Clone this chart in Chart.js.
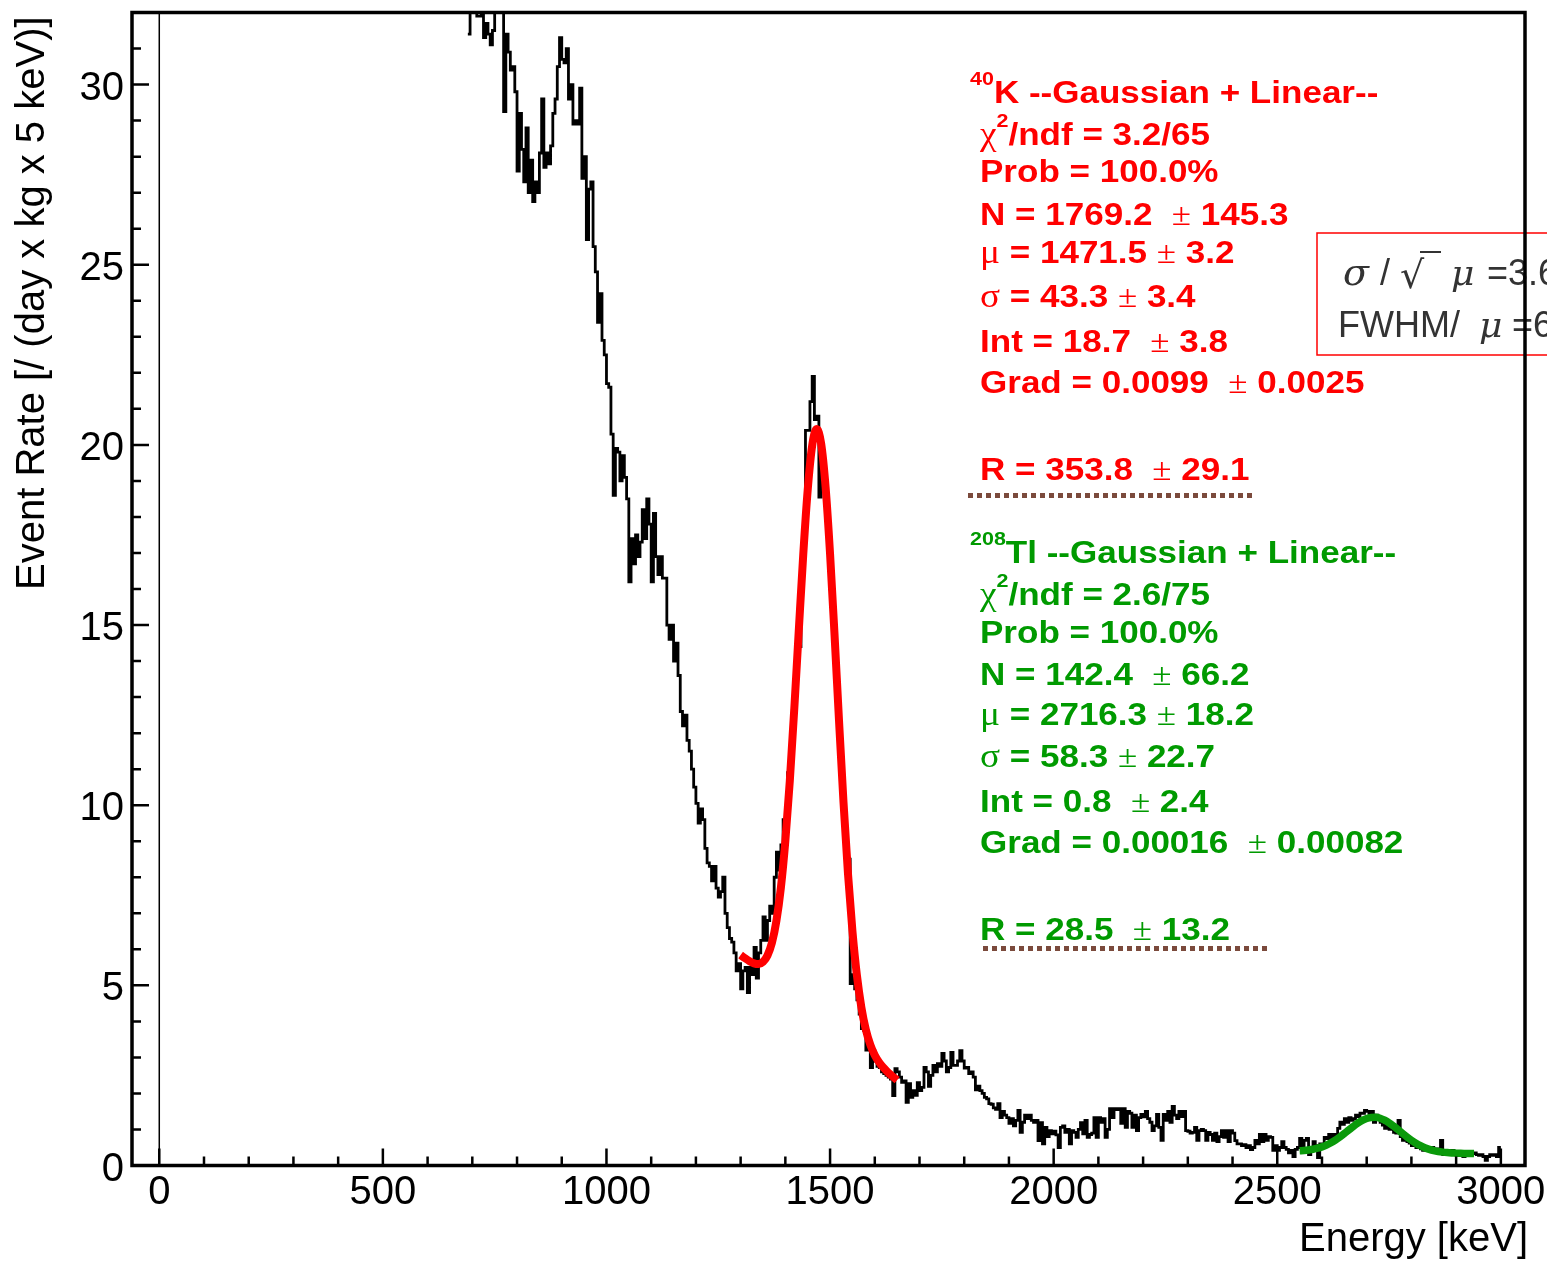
<!DOCTYPE html>
<html>
<head>
<meta charset="utf-8">
<title>Energy spectrum</title>
<script src="https://cdn.jsdelivr.net/npm/chart.js@4.4.1/dist/chart.umd.min.js"></script>
<style>
  html, body { margin: 0; padding: 0; background: #fff; }
  canvas { display: block; }
</style>
</head>
<body>
<canvas id="spectrum" width="1547" height="1261"></canvas>
<script>
////////////////////////////////
// Data
////////////////////////////////

// histogram, 5 keV bins, first bin starts at 690 keV (values above 32 run off the frame)
const binStart = 690;
const binWidth = 5;
const eventRate = [
  31.4, 33, 33, 33, 31.9, 31.9, 33, 31.3, 31.7, 31.4,          // 690
  31.1, 31.5, 33, 33, 33, 33, 29.25, 31.4, 30.9, 30.4,         // 740
  30.5, 29.8, 27.6, 29.2, 28.2, 27.3, 28.8, 27.0, 27.9, 26.75, // 790
  27.3, 27.0, 28.1, 29.6, 27.7, 28.1, 27.8, 28.3, 29.2, 29.6,  // 840
  30.5, 31.3, 30.7, 30.6, 31.0, 29.6, 30.0, 28.9, 29.0, 28.9,  // 890
  29.9, 27.4, 28.0, 25.7, 27.1, 27.3, 25.5, 24.8, 23.4, 24.2,  // 940
  22.9, 22.5, 21.7, 21.6, 20.3, 18.6, 19.9, 19.8, 19.0, 19.7,  // 990
  19.1, 18.5, 16.2, 17.4, 16.7, 17.5, 16.9, 17.3, 18.2, 17.4,  // 1040
  18.5, 17.8, 16.2, 18.1, 16.9, 16.4, 16.9, 16.3, 16.3, 15.0,  // 1090
  14.6, 15.0, 14.0, 14.5, 13.6, 12.6, 12.2, 12.5, 11.8, 11.5,  // 1140
  11.0, 10.5, 10.05, 9.5, 9.9, 9.6, 8.8, 8.4, 8.3, 7.9,        // 1190
  8.3, 7.7, 7.45, 7.6, 8.0, 7.0, 6.6, 6.3, 6.2, 5.9,           // 1240
  5.4, 5.6, 4.9, 5.4, 5.5, 4.8, 5.5, 5.3, 6.05, 5.2,           // 1290
  5.9, 6.25, 6.9, 6.25, 6.8, 7.2, 7.0, 8.0, 8.7, 8.2,          // 1340
  8.9, 9.6, 9.4, 10.9, 11.3, 12.4, 13.1, 14.4, 14.4, 16.3,     // 1390
  17.5, 20.4, 20.4, 21.2, 21.9, 20.7, 20.8, 18.55, 19.3, 19.0, // 1440
  18.0, 17.3, 16.0, 15.2, 14.0, 12.8, 11.9, 10.8, 9.6, 8.9,    // 1490
  8.5, 5.05, 5.3, 4.9, 4.6, 4.2, 3.8, 3.75, 3.2, 3.3,          // 1540
  2.72, 3.19, 2.9, 2.75, 2.72, 2.6, 2.55, 2.5, 2.45, 2.4,      // 1590
  1.94, 2.69, 2.6, 2.45, 2.31, 2.35, 1.75, 2.27, 1.89, 2.08,   // 1640
  1.95, 2.3, 2.08, 2.17, 2.72, 2.6, 2.2, 2.5, 2.78, 2.6,       // 1690
  2.83, 2.75, 3.11, 2.9, 2.6, 2.72, 3.14, 2.78, 2.78, 2.9,     // 1740
  3.19, 2.9, 2.7, 2.72, 2.55, 2.6, 2.45, 2.1, 2.2, 2.08,       // 1790
  2.0, 1.89, 1.85, 1.72, 1.7, 1.6, 1.56, 1.72, 1.33, 1.5,      // 1840
  1.4, 1.33, 1.17, 1.3, 1.1, 1.25, 1.53, 0.92, 1.2, 1.4,       // 1890
  1.3, 1.4, 1.25, 1.2, 1.25, 0.69, 1.19, 0.6, 1.06, 0.8,       // 1940
  0.97, 0.88, 0.95, 0.85, 0.5, 1.06, 1.1, 0.92, 1.0, 0.6,      // 1990
  0.97, 0.92, 0.78, 1.0, 1.19, 0.88, 1.25, 0.78, 0.86, 0.9,    // 2040
  1.33, 0.78, 1.33, 1.2, 1.3, 0.78, 1.0, 1.58, 1.33, 1.58,     // 2090
  1.55, 1.58, 1.17, 1.58, 1.06, 1.5, 1.45, 1.06, 1.4, 0.97,    // 2140
  1.33, 1.42, 1.35, 1.5, 1.3, 1.2, 0.97, 1.1, 1.42, 1.06,      // 2190
  0.7, 1.42, 1.25, 1.5, 1.2, 1.64, 1.4, 1.3, 1.5, 1.36,        // 2240
  1.5, 0.97, 0.95, 0.9, 0.92, 1.06, 0.7, 0.97, 1.0, 0.97,      // 2290
  0.7, 0.92, 0.86, 0.7, 0.9, 0.66, 0.8, 0.97, 0.78, 0.97,      // 2340
  0.66, 0.97, 0.9, 0.69, 0.6, 0.6, 0.55, 0.58, 0.5, 0.55,      // 2390
  0.44, 0.5, 0.7, 0.6, 0.86, 0.66, 0.86, 0.7, 0.8, 0.78,       // 2440
  0.42, 0.55, 0.42, 0.5, 0.66, 0.5, 0.45, 0.35, 0.42, 0.25,    // 2490
  0.45, 0.5, 0.75, 0.42, 0.7, 0.75, 0.3, 0.5, 0.66, 0.55,      // 2540
  0.22, 0.6, 0.55, 0.78, 0.75, 0.86, 0.7, 0.86, 0.8, 1.03,     // 2590
  1.2, 1.14, 1.3, 1.2, 1.33, 1.25, 1.3, 1.4, 1.36, 1.45,       // 2640
  1.45, 1.53, 1.5, 1.45, 1.5, 1.2, 1.4, 1.3, 1.2, 1.12,        // 2690
  1.03, 1.1, 1.0, 1.08, 0.92, 0.9, 1.25, 0.8, 0.7, 0.75,       // 2740
  0.66, 0.62, 0.55, 0.58, 0.5, 0.52, 0.46, 0.42, 0.45, 0.5,    // 2790
  0.48, 0.5, 0.45, 0.46, 0.44, 0.7, 0.3, 0.4, 0.42, 0.4,       // 2840
  0.42, 0.35, 0.28, 0.33, 0.3, 0.25, 0.28, 0.35, 0.3, 0.33,    // 2890
  0.35, 0.3, 0.28, 0.3, 0.25, 0.14, 0.25, 0.3, 0.28, 0.3,      // 2940
  0.25, 0.5                                                    // 2990
];

// fitted curves, read every 10 keV along the drawn line
const fitStep = 10;
const k40FitStart = 1300;
const k40FitRate = [
  5.84, 5.75, 5.67, 5.61, 5.59, 5.65, 5.83, 6.18, 6.79, 7.71,
  9.01, 10.68, 12.68, 14.84, 16.95, 18.75, 19.98, 20.44, 20.04, 18.83,
  16.97, 14.73, 12.35, 10.09, 8.11, 6.51, 5.28, 4.39, 3.77, 3.35,
  3.06, 2.86, 2.71, 2.58, 2.47, 2.37
];
const tl208FitStart = 2550;
const tl208FitRate = [
  0.409, 0.417, 0.431, 0.450, 0.479, 0.517, 0.567, 0.630, 0.705, 0.792,
  0.887, 0.986, 1.084, 1.174, 1.251, 1.306, 1.335, 1.338, 1.312, 1.259,
  1.185, 1.094, 0.995, 0.892, 0.792, 0.700, 0.618, 0.549, 0.493, 0.448,
  0.414, 0.389, 0.371, 0.358, 0.349, 0.343, 0.338, 0.335, 0.332, 0.330
];

// axes
const xRange = [-61, 3054];
const yRange = [0, 32];
const xTickLabels = [0, 500, 1000, 1500, 2000, 2500, 3000];
const yTickLabels = [0, 5, 10, 15, 20, 25, 30];
const xMinorStep = 100;
const yMinorStep = 1;

// fit result boxes
const k40Lines = [
  [['40', 'sup'], ['K --Gaussian + Linear--', 'b']],
  [['\u03c7', 'g'], ['2', 'sup'], ['/ndf = 3.2/65', 'b']],
  [['Prob = 100.0%', 'b']],
  [['N = 1769.2  ', 'b'], ['\u00b1', 'pm'], [' 145.3', 'b']],
  [['\u03bc', 'g'], [' = 1471.5 ', 'b'], ['\u00b1', 'pm'], [' 3.2', 'b']],
  [['\u03c3', 'g'], [' = 43.3 ', 'b'], ['\u00b1', 'pm'], [' 3.4', 'b']],
  [['Int = 18.7  ', 'b'], ['\u00b1', 'pm'], [' 3.8', 'b']],
  [['Grad = 0.0099  ', 'b'], ['\u00b1', 'pm'], [' 0.0025', 'b']],
  [['R = 353.8  ', 'b'], ['\u00b1', 'pm'], [' 29.1', 'b']]
];
const k40Baselines = [103, 145, 182, 225, 263, 307, 352, 393, 480];

const tl208Lines = [
  [['208', 'sup'], ['Tl --Gaussian + Linear--', 'b']],
  [['\u03c7', 'g'], ['2', 'sup'], ['/ndf = 2.6/75', 'b']],
  [['Prob = 100.0%', 'b']],
  [['N = 142.4  ', 'b'], ['\u00b1', 'pm'], [' 66.2', 'b']],
  [['\u03bc', 'g'], [' = 2716.3 ', 'b'], ['\u00b1', 'pm'], [' 18.2', 'b']],
  [['\u03c3', 'g'], [' = 58.3 ', 'b'], ['\u00b1', 'pm'], [' 22.7', 'b']],
  [['Int = 0.8  ', 'b'], ['\u00b1', 'pm'], [' 2.4', 'b']],
  [['Grad = 0.00016  ', 'b'], ['\u00b1', 'pm'], [' 0.00082', 'b']],
  [['R = 28.5  ', 'b'], ['\u00b1', 'pm'], [' 13.2', 'b']]
];
const tl208Baselines = [563, 605, 643, 685, 725, 767, 812, 853, 940];

////////////////////////////////
// Drawing helpers
////////////////////////////////

const SANS = '"Liberation Sans", Arial, Helvetica, sans-serif';
const SERIF = '"Liberation Serif", "Times New Roman", serif';
const TEXT_STRETCH = 1.13;
const richFonts = {
  b: 'bold 31px ' + SANS,
  sup: 'bold 19px ' + SANS,
  g: '33px ' + SERIF,
  pm: '31px ' + SERIF
};

function drawRichLine(ctx, x, y, parts) {
  ctx.save();
  ctx.translate(x, y);
  ctx.scale(TEXT_STRETCH, 1);
  let cx = 0;
  parts.forEach(([txt, kind]) => {
    ctx.font = richFonts[kind];
    ctx.fillText(txt, cx, kind === 'sup' ? -18 : 0);
    cx += ctx.measureText(txt).width;
  });
  ctx.restore();
}

function drawFitBlock(ctx, lines, baselines, color, lineY, lineX0, lineX1) {
  ctx.save();
  ctx.fillStyle = color;
  ctx.textAlign = 'left';
  ctx.textBaseline = 'alphabetic';
  lines.forEach((parts, i) => {
    drawRichLine(ctx, i === 0 ? 970 : 980, baselines[i], parts);
  });
  // dotted separator under the block
  ctx.strokeStyle = '#7b4a3c';
  ctx.lineWidth = 5;
  ctx.setLineDash([5, 4]);
  ctx.beginPath();
  ctx.moveTo(lineX0, lineY);
  ctx.lineTo(lineX1, lineY);
  ctx.stroke();
  ctx.restore();
}

function drawResolutionBox(ctx) {
  ctx.save();
  ctx.strokeStyle = '#ff0000';
  ctx.lineWidth = 1.5;
  ctx.strokeRect(1317, 233, 260, 122);
  ctx.fillStyle = '#333333';
  ctx.textBaseline = 'alphabetic';
  // sigma / sqrt(mu)
  ctx.font = 'italic 38px "DejaVu Serif", serif';
  ctx.fillText('\u03c3', 1343, 285);
  ctx.font = '36px ' + SANS;
  ctx.fillText('/', 1380, 285);
  ctx.font = '38px "DejaVu Sans", sans-serif';
  ctx.fillText('\u221a', 1400, 288);
  ctx.strokeStyle = '#333333';
  ctx.lineWidth = 2;
  ctx.beginPath();
  ctx.moveTo(1420, 252);
  ctx.lineTo(1441, 252);
  ctx.stroke();
  ctx.font = 'italic 36px "DejaVu Serif", serif';
  ctx.fillText('\u03bc', 1451, 285);
  ctx.font = '36px ' + SANS;
  ctx.fillText('=3.6', 1487, 285);
  // FWHM / mu
  ctx.font = '36px ' + SANS;
  ctx.fillText('FWHM/', 1338, 337);
  ctx.font = 'italic 36px "DejaVu Serif", serif';
  ctx.fillText('\u03bc', 1479, 337);
  ctx.font = '36px ' + SANS;
  ctx.fillText('=6', 1512, 337);
  ctx.restore();
}

const rootFrame = {
  id: 'rootFrame',
  beforeDatasetsDraw(chart) {
    const { ctx, chartArea, scales: { x } } = chart;
    const px = x.getPixelForValue(0);
    ctx.save();
    ctx.strokeStyle = '#000';
    ctx.lineWidth = 1.5;
    ctx.beginPath();
    ctx.moveTo(px, chartArea.top);
    ctx.lineTo(px, chartArea.bottom);
    ctx.stroke();
    ctx.restore();
  },
  afterDraw(chart) {
    const { ctx, chartArea: area, scales: { x, y } } = chart;

    drawFitBlock(ctx, k40Lines, k40Baselines, '#ff0000', 495.5, 968, 1253);
    drawFitBlock(ctx, tl208Lines, tl208Baselines, '#009a00', 948.5, 983, 1268);
    drawResolutionBox(ctx);

    ctx.save();
    ctx.strokeStyle = '#000';
    // ticks pointing into the frame
    ctx.lineWidth = 2.5;
    ctx.beginPath();
    for (let v = 0; v <= xTickLabels[xTickLabels.length - 1]; v += xMinorStep) {
      const px = x.getPixelForValue(v);
      const len = xTickLabels.includes(v) ? 17 : 9;
      ctx.moveTo(px, area.bottom);
      ctx.lineTo(px, area.bottom - len);
    }
    for (let v = yRange[0]; v < yRange[1]; v += yMinorStep) {
      const py = y.getPixelForValue(v);
      const len = yTickLabels.includes(v) ? 17 : 9;
      ctx.moveTo(area.left, py);
      ctx.lineTo(area.left + len, py);
    }
    ctx.stroke();
    // frame
    ctx.lineWidth = 3.5;
    ctx.strokeRect(area.left, area.top, area.right - area.left, area.bottom - area.top);

    // tick labels
    ctx.fillStyle = '#000';
    ctx.font = '40px ' + SANS;
    ctx.textBaseline = 'alphabetic';
    ctx.textAlign = 'center';
    xTickLabels.forEach(v => ctx.fillText(String(v), x.getPixelForValue(v), area.bottom + 38));
    ctx.textAlign = 'right';
    yTickLabels.forEach(v => ctx.fillText(String(v), area.left - 8, y.getPixelForValue(v) + 15));

    // axis titles
    ctx.textAlign = 'right';
    ctx.fillText('Energy [keV]', area.right + 3, 1251);
    ctx.translate(44, 590);
    ctx.rotate(-Math.PI / 2);
    ctx.textAlign = 'left';
    ctx.fillText('Event Rate [/ (day x kg x 5 keV)]', 0, 0);
    ctx.restore();
  }
};

////////////////////////////////
// Chart
////////////////////////////////

const histPoints = eventRate.map((v, i) => ({ x: binStart + i * binWidth, y: v }));
histPoints.push({ x: binStart + eventRate.length * binWidth, y: eventRate[eventRate.length - 1] });
const k40FitPoints = k40FitRate.map((v, i) => ({ x: k40FitStart + i * fitStep, y: v }));
const tl208FitPoints = tl208FitRate.map((v, i) => ({ x: tl208FitStart + i * fitStep, y: v }));

const ctx = document.getElementById('spectrum').getContext('2d');
new Chart(ctx, {
  type: 'line',
  data: {
    datasets: [
      {
        label: '40K fit',
        data: k40FitPoints,
        borderColor: '#ff0000',
        borderWidth: 8,
        cubicInterpolationMode: 'monotone',
        pointRadius: 0,
        order: 1
      },
      {
        label: '208Tl fit',
        data: tl208FitPoints,
        borderColor: '#0a9a0a',
        borderWidth: 7.5,
        cubicInterpolationMode: 'monotone',
        pointRadius: 0,
        order: 1
      },
      {
        label: 'Event rate',
        data: histPoints,
        borderColor: '#000000',
        borderWidth: 2.8,
        stepped: true,
        pointRadius: 0,
        order: 2
      }
    ]
  },
  options: {
    responsive: false,
    animation: false,
    devicePixelRatio: 1,
    layout: { padding: { left: 132, right: 22, top: 12.5, bottom: 95.5 } },
    scales: {
      x: { type: 'linear', min: xRange[0], max: xRange[1], display: false },
      y: { type: 'linear', min: yRange[0], max: yRange[1], display: false }
    },
    plugins: {
      legend: { display: false },
      tooltip: { enabled: false }
    }
  },
  plugins: [rootFrame]
});
</script>
</body>
</html>
